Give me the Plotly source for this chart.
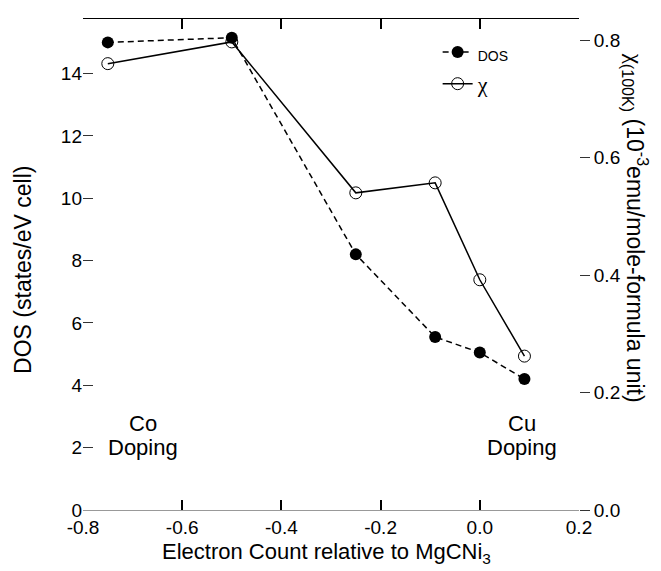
import plotly.graph_objects as go

# Data
electron_count = [-0.75, -0.5, -0.25, -0.09, 0.0, 0.09]
dos_values = [15.0, 15.15, 8.2, 5.55, 5.05, 4.2]
chi_values = [0.76, 0.797, 0.54, 0.557, 0.392, 0.262]

x_ticks = [-0.8, -0.6, -0.4, -0.2, 0.0, 0.2]
x_tick_labels = ["-0.8", "-0.6", "-0.4", "-0.2", "0.0", "0.2"]
y_left_ticks = [0, 2, 4, 6, 8, 10, 12, 14]
y_right_ticks = [0.0, 0.2, 0.4, 0.6, 0.8]

FONT = "Arial, Liberation Sans, Helvetica, sans-serif"
CHI = "<span style='font-family:Liberation Serif, DejaVu Serif, serif'>χ</span>"

fig = go.Figure()

fig.add_trace(go.Scatter(
    x=electron_count, y=dos_values, mode="lines+markers",
    name="<span style='font-size:14px'>DOS</span>",
    line=dict(color="black", width=1.5, dash="6px,4px"),
    marker=dict(symbol="circle", size=12, color="black"),
    yaxis="y", xaxis="x",
))
fig.add_trace(go.Scatter(
    x=electron_count, y=chi_values, mode="lines+markers",
    name=CHI,
    line=dict(color="black", width=1.5),
    marker=dict(symbol="circle-open", size=12, color="black", line=dict(width=1)),
    yaxis="y2", xaxis="x",
))
# empty trace for the top frame axis
fig.add_trace(go.Scatter(x=[], y=[], xaxis="x2", yaxis="y", showlegend=False, hoverinfo="skip"))

fig.update_layout(
    width=661, height=571,
    margin=dict(l=75, r=90, t=11, b=69),
    paper_bgcolor="white", plot_bgcolor="white",
    font=dict(family=FONT, size=19, color="black"),
    showlegend=True,
    legend=dict(x=0.715, y=0.975, xanchor="left", yanchor="top",
                bgcolor="rgba(0,0,0,0)", font=dict(size=22),
                itemwidth=30, tracegroupgap=0),
    xaxis=dict(range=[-0.8, 0.2], tickvals=x_ticks, ticktext=x_tick_labels,
               showgrid=False, zeroline=False,
               showline=True, linecolor="#999", linewidth=1,
               ticks="inside", ticklen=10, tickcolor="black", tickwidth=1.5,
               tickfont=dict(size=19)),
    xaxis2=dict(range=[-0.8, 0.2], overlaying="x", side="top", anchor="y",
                tickvals=x_ticks, showticklabels=False,
                showgrid=False, zeroline=False,
                showline=True, linecolor="black", linewidth=1.2,
                ticks="inside", ticklen=10, tickcolor="black", tickwidth=1.5),
    yaxis=dict(range=[0, 15.75], tickvals=y_left_ticks,
               showgrid=False, zeroline=False, showline=False,
               ticks="inside", ticklen=10, tickcolor="#333", tickwidth=1,
               tickfont=dict(size=19)),
    yaxis2=dict(range=[0, 0.836], tickvals=y_right_ticks, tickformat=".1f",
                overlaying="y", side="right", anchor="x",
                showgrid=False, zeroline=False, showline=False,
                ticks="outside", ticklen=10, tickcolor="#333", tickwidth=1,
                tickfont=dict(size=19)),
)

annotations = [
    dict(text="Electron Count relative to MgCNi<sub>3</sub>", x=0.49, y=-0.087,
         xref="paper", yref="paper", xanchor="center", yanchor="middle",
         showarrow=False, font=dict(size=22)),
    dict(text="DOS (states/eV cell)", x=-0.12, y=0.49, xref="paper", yref="paper",
         xanchor="center", yanchor="middle", textangle=-90, showarrow=False,
         font=dict(size=23)),
    dict(text=CHI + "<sub>(100K)</sub> (10<sup>-3</sup>emu/mole-formula unit)", x=1.115, y=0.575,
         xref="paper", yref="paper", xanchor="center", yanchor="middle",
         textangle=90, showarrow=False, font=dict(size=23)),
    dict(text="Co", x=-0.68, y=2.79, xref="x", yref="y",
         xanchor="center", yanchor="middle", showarrow=False, font=dict(size=22)),
    dict(text="Doping", x=-0.68, y=2.02, xref="x", yref="y",
         xanchor="center", yanchor="middle", showarrow=False, font=dict(size=22)),
    dict(text="Cu", x=0.086, y=2.79, xref="x", yref="y",
         xanchor="center", yanchor="middle", showarrow=False, font=dict(size=22)),
    dict(text="Doping", x=0.086, y=2.02, xref="x", yref="y",
         xanchor="center", yanchor="middle", showarrow=False, font=dict(size=22)),
]
fig.update_layout(annotations=annotations)

fig.write_html("out.html")
